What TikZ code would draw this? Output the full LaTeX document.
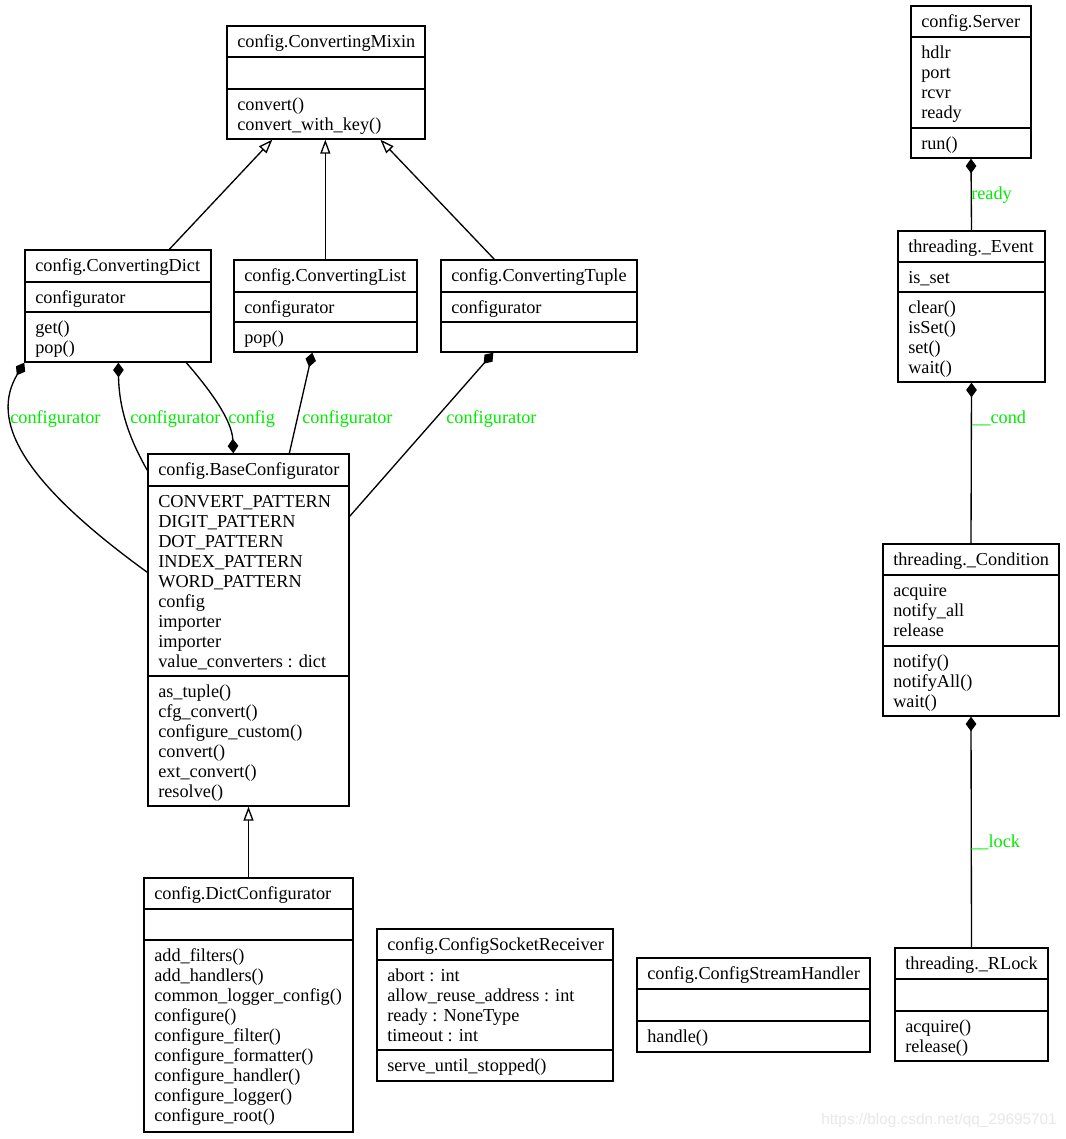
\documentclass[tikz,border=0pt]{standalone}
\usepackage{fontspec}
\setmainfont{Liberation Serif}
\newfontfamily\wmfont{Liberation Sans}
\usetikzlibrary{arrows.meta,fit,calc}
\definecolor{lblgreen}{RGB}{0,235,0}
\tikzset{
  cls/.style={draw, line width=1pt, inner sep=0pt},
  divider/.style={line width=1pt},
  txt/.style={inner sep=0pt, font=\fontsize{13.7}{15}\selectfont},
  lbl/.style={inner sep=0pt, text=lblgreen, font=\fontsize{13.7}{15}\selectfont, anchor=base west},
  conn/.style={line width=1pt},
  inh/.style={conn, -{Triangle[open, length=10.5pt, width=7.5pt, fill=white]}},
  compstart/.style={conn, {Diamond[length=11pt, width=8pt]}-},
  compend/.style={conn, -{Diamond[length=11pt, width=8pt]}}
}
% box: name, x1, y1, x2, y2, divider1, divider2, title
\newcommand\umlcls[8]{%
  \node[cls, fit={(#2,#3) (#4,#5)}] (#1) {};
  \draw[divider] (#2,#6) -- (#4,#6);
  \draw[divider] (#2,#7) -- (#4,#7);
  \node[txt, anchor=base west] (#1-title) at ({#2+10},{#3+21}) {#8};
}
% rows: x, first baseline y, list
\newcommand\umlrows[3]{%
  \foreach \rowtxt [count=\i from 0] in {#3}
    \node[txt, anchor=base west] at (#1,{#2+20*\i}) {\rowtxt};
}
\begin{document}
\begin{tikzpicture}[x=0.75pt, y=-0.75pt]
\useasboundingbox (0,0) rectangle (1065,1139);
\fill[white] (0,0) rectangle (1065,1139);

% ConvertingMixin
\umlcls{mixin}{227}{26}{425}{139}{57}{89}{config.ConvertingMixin}
\umlrows{237}{110}{convert(),convert\_with\_key()}

% ConvertingDict
\umlcls{dict}{25}{250}{211}{362}{282}{312}{config.ConvertingDict}
\umlrows{35}{303}{configurator}
\umlrows{35}{333}{get(),pop()}

% ConvertingList
\umlcls{list}{234}{260}{417}{352}{292}{322}{config.ConvertingList}
\umlrows{244}{313}{configurator}
\umlrows{244}{343}{pop()}

% ConvertingTuple
\umlcls{tuple}{441}{260}{637}{352}{292}{322}{config.ConvertingTuple}
\umlrows{451}{313}{configurator}

% BaseConfigurator
\umlcls{base}{148}{454}{349}{806}{486}{676}{config.BaseConfigurator}
\umlrows{158}{507}{CONVERT\_PATTERN,DIGIT\_PATTERN,DOT\_PATTERN,INDEX\_PATTERN,WORD\_PATTERN,config,importer,importer,value\_converters : dict}
\umlrows{158}{697}{as\_tuple(),cfg\_convert(),configure\_custom(),convert(),ext\_convert(),resolve()}

% DictConfigurator
\umlcls{dictc}{144}{878}{353}{1132}{909}{940}{config.DictConfigurator}
\umlrows{154}{961}{add\_filters(),add\_handlers(),common\_logger\_config(),configure(),configure\_filter(),configure\_formatter(),configure\_handler(),configure\_logger(),configure\_root()}

% ConfigSocketReceiver
\umlcls{sock}{377}{929}{613}{1081}{960}{1050}{config.ConfigSocketReceiver}
\umlrows{387}{981}{abort : int,allow\_reuse\_address : int,ready : NoneType,timeout : int}
\umlrows{387}{1071}{serve\_until\_stopped()}

% ConfigStreamHandler
\umlcls{stream}{637}{958}{870}{1052}{989}{1021}{config.ConfigStreamHandler}
\umlrows{647}{1042}{handle()}

% Server
\umlcls{server}{911}{6}{1031}{158}{37}{128}{config.Server}
\umlrows{921}{58}{hdlr,port,rcvr,ready}
\umlrows{921}{149}{run()}

% _Event
\umlcls{event}{898}{231}{1045}{382}{262}{292}{threading.\_Event}
\umlrows{908}{283}{is\_set}
\umlrows{908}{313}{clear(),isSet(),set(),wait()}

% _Condition
\umlcls{cond}{883}{544}{1059}{716}{575}{646}{threading.\_Condition}
\umlrows{893}{596}{acquire,notify\_all,release}
\umlrows{893}{667}{notify(),notifyAll(),wait()}

% _RLock
\umlcls{rlock}{895}{948}{1048}{1061}{979}{1011}{threading.\_RLock}
\umlrows{905}{1032}{acquire(),release()}

% inheritance
\draw[inh] ($(dict.north west)+(145,0)$) -- ($(mixin.south west)+(46,0)$);
\draw[inh] ($(list.north west)+(92,0)$) -- ($(mixin.south west)+(99,0)$);
\draw[inh] ($(tuple.north west)+(54,0)$) -- ($(mixin.south west)+(154,0)$);
\draw[inh] (dictc.north) -- (base.south);

% compositions
\draw[compstart] (dict.south west) .. controls (-10,420) and (20,480) .. ($(base.north west)+(0,119)$);
\draw[compstart] ($(dict.south west)+(94,0)$) .. controls (119,410) and (130,440) .. ($(base.north west)+(0,17)$);
\draw[compend] ($(dict.south west)+(162,0)$) .. controls (210,390) and (232,420) .. ($(base.north west)+(86,0)$);
\draw[compstart] ($(list.south west)+(79,0)$) -- ($(base.north west)+(142,0)$);
\draw[compstart] ($(tuple.south west)+(53,0)$) -- ($(base.north east)+(0,63)$);
\draw[compstart] (server.south) -- (event.north);
\draw[compstart] (event.south) -- (cond.north);
\draw[compstart] (cond.south) -- (rlock.north);

% labels
\node[lbl] (l1) at (10,423) {configurator};
\node[lbl] (l2) at (130,423) {configurator};
\node[lbl] (l3) at (228,423) {config};
\node[lbl] (l4) at (302,423) {configurator};
\node[lbl] (l5) at (446,423) {configurator};
\node[lbl] (l6) at (971,199) {ready};
\node[lbl] (l7) at (972,423) {\_\_cond};
\node[lbl] (l8) at (970,847) {\_\_lock};

% watermark
\node[inner sep=0pt, anchor=east, text=black!9, font=\wmfont\fontsize{11.5}{13}\selectfont] (wm) at (1057,1121) {https://blog.csdn.net/qq\_29695701};
\end{tikzpicture}
\end{document}
